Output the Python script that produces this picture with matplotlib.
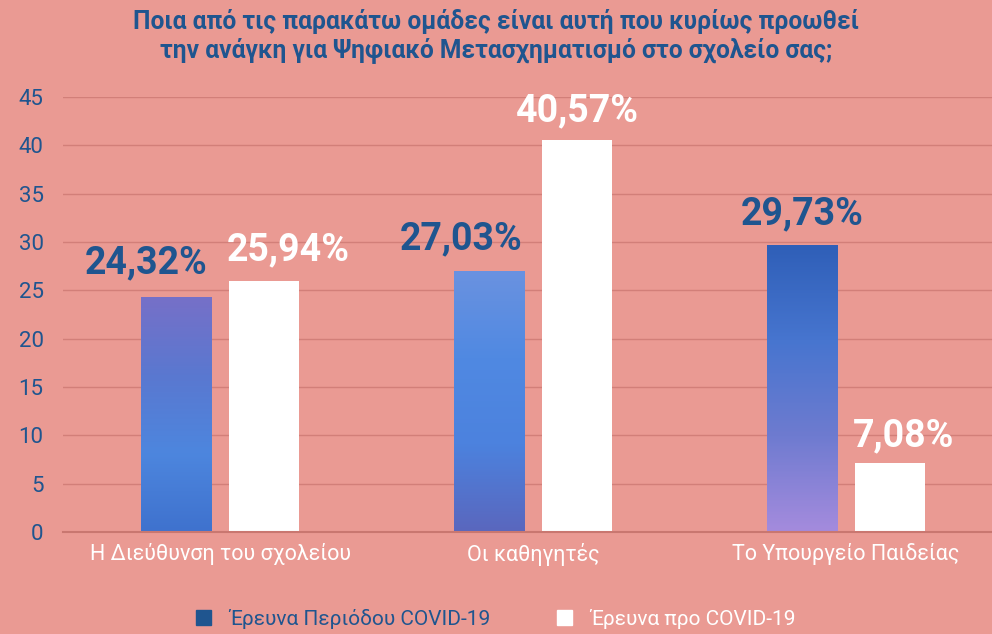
import matplotlib.pyplot as plt
import numpy as np
from matplotlib.colors import LinearSegmentedColormap
from matplotlib.patches import Patch

categories = ["Η Διεύθυνση του σχολείου", "Οι καθηγητές", "Το Υπουργείο Παιδείας"]
covid = [24.32, 27.03, 29.73]
pre_covid = [25.94, 40.57, 7.08]
series_names = ["Έρευνα Περιόδου COVID-19", "Έρευνα προ COVID-19"]
labels_covid = ["24,32%", "27,03%", "29,73%"]
labels_pre = ["25,94%", "40,57%", "7,08%"]
title = ("Ποια από τις παρακάτω ομάδες είναι αυτή που κυρίως προωθεί\n"
         "την ανάγκη για Ψηφιακό Μετασχηματισμό στο σχολείο σας;")

BG = "#EA9A93"
DARK = "#1F558F"
GRID = "#D27F79"

plt.rcParams["font.family"] = ["Roboto", "DejaVu Sans"]

fig = plt.figure(figsize=(9.92, 6.34), dpi=100, facecolor=BG)
ax = fig.add_axes([0.0635, 0.161, 0.9365, 0.686], facecolor=BG)

x = np.arange(len(categories))
w = 0.224
off = 0.141

bars_c = ax.bar(x - off, covid, w, color="#4C7FDC", zorder=2)
bars_p = ax.bar(x + off, pre_covid, w, color="white", zorder=2)

# soft faceted-blue look: vertical gradient clipped to each bar
cmaps = [
    ["#3F72CE", "#4D86DE", "#5A78D0", "#7670C8"],
    ["#5A67BE", "#4C82DE", "#5089E2", "#6A92E0"],
    ["#A48BDD", "#6E7BD0", "#4775CF", "#2F5FB8"],
]
for b, cols in zip(bars_c, cmaps):
    cmap = LinearSegmentedColormap.from_list("bar", cols)
    x0, y0 = b.get_x(), b.get_y()
    im = ax.imshow(np.linspace(0, 1, 100).reshape(-1, 1), cmap=cmap, aspect="auto",
                   origin="lower", extent=[x0, x0 + b.get_width(), y0, y0 + b.get_height()],
                   zorder=2.5)
    im.set_clip_path(b)

# label nudges (pixels), as placed in the original
nudge_c = [(-30, 34), (-28, 32), (0, 31)]
nudge_p = [(24, 31), (0, 29), (13, 28)]
for bars, texts, nudges, col in [(bars_c, labels_covid, nudge_c, DARK),
                                 (bars_p, labels_pre, nudge_p, "white")]:
    for b, t, n in zip(bars, texts, nudges):
        ax.annotate(t, (b.get_x() + b.get_width() / 2, b.get_height()), xytext=n,
                    textcoords="offset pixels", ha="center", va="center",
                    fontsize=27, fontweight="bold", color=col, zorder=3)

ax.set_xlim(-0.502, 2.466)
ax.set_ylim(0, 45)
ax.set_yticks(range(0, 50, 5))
ax.set_xticks(x)
ax.set_xticklabels(categories)
ax.tick_params(axis="x", length=0, pad=8, labelsize=15.5, labelcolor="white")
ax.tick_params(axis="y", length=0, pad=14, labelsize=16, labelcolor=DARK)
ax.grid(axis="y", color=GRID, linewidth=1, zorder=0)
ax.set_axisbelow(True)
for s in ["top", "right", "left"]:
    ax.spines[s].set_visible(False)
ax.spines["bottom"].set_color("#C97770")
ax.spines["bottom"].set_linewidth(1.5)

fig.text(0.5, 0.943, title, ha="center", va="center", fontsize=17.7,
         fontweight="bold", color=DARK, linespacing=1.15)

handles = [Patch(color=DARK), Patch(color="white")]
leg = fig.legend(handles, series_names, loc="center", bbox_to_anchor=(0.5, 0.024),
                 ncol=2, frameon=False, handlelength=0.7, handleheight=0.7,
                 columnspacing=3.2, handletextpad=0.9, prop={"size": 15})
leg.get_texts()[0].set_color(DARK)
leg.get_texts()[1].set_color("white")

fig.savefig("out.png", dpi=100, facecolor=BG)
